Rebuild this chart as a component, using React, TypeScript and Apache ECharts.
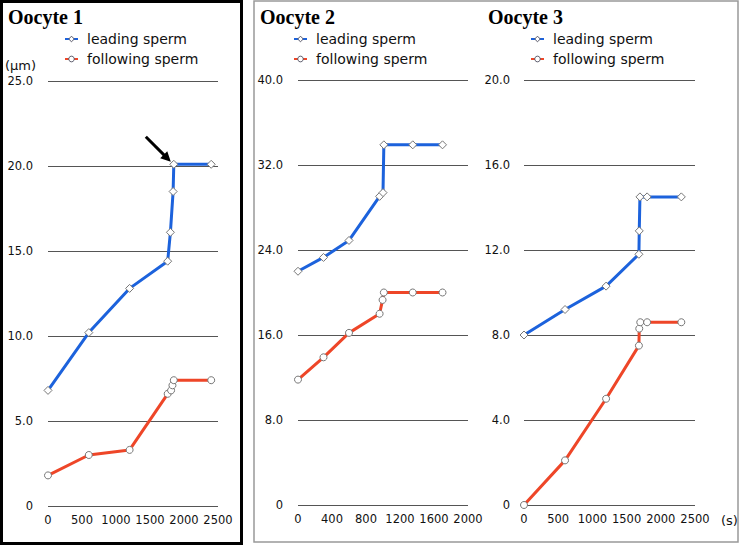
import React, { useEffect, useRef } from "react";
import * as echarts from "echarts";

// ---- data (time in s, distance in µm) ----
const panelTitles = ["Oocyte 1", "Oocyte 2", "Oocyte 3"];
const seriesNames = ["leading sperm", "following sperm"];

const leading1 = [[0, 6.8], [600, 10.2], [1200, 12.8], [1760, 14.4], [1800, 16.1], [1840, 18.5], [1850, 20.1], [2400, 20.1]];
const following1 = [[0, 1.8], [600, 3.0], [1200, 3.3], [1760, 6.6], [1810, 6.8], [1830, 7.1], [1850, 7.4], [2400, 7.4]];

const leading2 = [[0, 22.0], [300, 23.3], [600, 24.9], [960, 29.05], [1000, 29.4], [1010, 33.9], [1350, 33.9], [1700, 33.9]];
const following2 = [[0, 11.8], [300, 13.9], [600, 16.2], [960, 18.0], [995, 19.3], [1010, 20.0], [1350, 20.0], [1700, 20.0]];

const leading3 = [[0, 8.0], [600, 9.2], [1200, 10.3], [1680, 11.8], [1685, 12.9], [1695, 14.5], [1800, 14.5], [2300, 14.5]];
const following3 = [[0, 0], [600, 2.1], [1200, 5.0], [1680, 7.5], [1685, 8.3], [1700, 8.6], [1800, 8.6], [2300, 8.6]];

// axis scales
const xMax = [2500, 2000, 2500];
const xInterval = [500, 400, 500];
const yMax = [25, 40, 20];
const yInterval = [5, 8, 4];

const BLUE = "#1c62dc";
const RED = "#ee4628";
const SANS = "DejaVu Sans";

export default function App() {
  const ref = useRef<HTMLDivElement>(null);

  useEffect(() => {
    document.body.style.margin = "0";
    const el = ref.current!;
    const chart = echarts.init(el, null, { renderer: "svg" });

    const grids = [
      { left: 48, top: 81, width: 170, height: 425 },
      { left: 298, top: 80, width: 170, height: 425 },
      { left: 524, top: 80, width: 171, height: 425 },
    ];
    const yMargins = [15, 15, 14];
    const legendLefts = [59, 288, 525];

    const leads = [leading1, leading2, leading3];
    const follows = [following1, following2, following3];

    const series: any[] = [];
    for (let i = 0; i < 3; i++) {
      series.push({
        type: "line",
        name: seriesNames[0],
        xAxisIndex: i,
        yAxisIndex: i,
        data: leads[i],
        symbol: "diamond",
        symbolSize: 8,
        showAllSymbol: true,
        clip: false,
        z: 3,
        lineStyle: { color: BLUE, width: 3 },
        itemStyle: { color: "#fff", borderColor: "#777", borderWidth: 1 },
      });
      series.push({
        type: "line",
        name: seriesNames[1],
        xAxisIndex: i,
        yAxisIndex: i,
        data: follows[i],
        symbol: "circle",
        symbolSize: 7,
        showAllSymbol: true,
        clip: false,
        z: 3,
        lineStyle: { color: RED, width: 3 },
        itemStyle: { color: "#fff", borderColor: "#777", borderWidth: 1 },
      });
    }

    const option: any = {
      animation: false,
      backgroundColor: "#fff",
      grid: grids,
      xAxis: grids.map((_, i) => ({
        type: "value",
        gridIndex: i,
        min: 0,
        max: xMax[i],
        interval: xInterval[i],
        axisLine: { show: false },
        axisTick: { show: false },
        splitLine: { show: false },
        axisLabel: {
          margin: 8,
          color: "#111",
          fontSize: 11.5,
          fontFamily: SANS,
          showMinLabel: true,
          showMaxLabel: true,
          formatter: (v: number) => String(v),
        },
      })),
      yAxis: grids.map((_, i) => ({
        type: "value",
        gridIndex: i,
        min: 0,
        max: yMax[i],
        interval: yInterval[i],
        axisLine: { show: false },
        axisTick: { show: false },
        splitLine: { show: true, lineStyle: { color: "#555", width: 1 } },
        axisLabel: {
          margin: yMargins[i],
          color: "#111",
          fontSize: 11.5,
          fontFamily: SANS,
          formatter: (v: number) => (v === 0 ? "0" : v.toFixed(1)),
        },
      })),
      legend: legendLefts.map((l) => ({
        left: l,
        top: 27,
        orient: "vertical",
        itemWidth: 13,
        itemHeight: 7,
        itemGap: 6,
        data: seriesNames,
        selectedMode: false,
        lineStyle: { width: 2 },
        itemStyle: { color: "#fff", borderColor: "#556", borderWidth: 1 },
        textStyle: { fontSize: 14, fontFamily: SANS, color: "#111", lineHeight: 14, padding: [0, 0, 0, 4] },
      })),
      series,
    };

    chart.setOption(option);

    // annotation arrow pointing at the leading sperm's arrival point in Oocyte 1
    const target = chart.convertToPixel({ gridIndex: 0 } as any, leading1[6]) as number[];
    const tip = [target[0] - 3, target[1] - 2.5];
    const dir = [Math.SQRT1_2, Math.SQRT1_2];
    const tail = [tip[0] - 25, tip[1] - 25];
    const headLen = 10;
    const headHalf = 5;
    const base = [tip[0] - dir[0] * headLen, tip[1] - dir[1] * headLen];
    const perp = [-dir[1], dir[0]];

    chart.setOption({
      graphic: [
        {
          type: "rect",
          shape: { x: 1.5, y: 1.5, width: 240, height: 542 },
          style: { fill: "none", stroke: "#000", lineWidth: 3 },
          silent: true,
        },
        {
          type: "rect",
          shape: { x: 254, y: 1, width: 484, height: 541 },
          style: { fill: "none", stroke: "#999", lineWidth: 1.5 },
          silent: true,
        },
        {
          type: "text",
          x: 8,
          y: 17,
          style: { text: panelTitles[0], font: "bold 20px 'Liberation Serif'", fill: "#000", textVerticalAlign: "middle" },
        },
        {
          type: "text",
          x: 260,
          y: 17,
          style: { text: panelTitles[1], font: "bold 20px 'Liberation Serif'", fill: "#000", textVerticalAlign: "middle" },
        },
        {
          type: "text",
          x: 488,
          y: 17,
          style: { text: panelTitles[2], font: "bold 20px 'Liberation Serif'", fill: "#000", textVerticalAlign: "middle" },
        },
        {
          type: "text",
          x: 5,
          y: 65,
          style: { text: "(μm)", font: "13px 'DejaVu Sans'", fill: "#111", textVerticalAlign: "middle" },
        },
        {
          type: "text",
          x: 721,
          y: 520,
          style: { text: "(s)", font: "13px 'DejaVu Sans'", fill: "#111", textVerticalAlign: "middle" },
        },
        {
          type: "line",
          shape: { x1: tail[0], y1: tail[1], x2: base[0] + dir[0] * 2, y2: base[1] + dir[1] * 2 },
          style: { stroke: "#000", lineWidth: 3 },
          z: 10,
        },
        {
          type: "polygon",
          shape: {
            points: [
              tip,
              [base[0] + perp[0] * headHalf, base[1] + perp[1] * headHalf],
              [base[0] - perp[0] * headHalf, base[1] - perp[1] * headHalf],
            ],
          },
          style: { fill: "#000" },
          z: 10,
        },
      ],
    });

    return () => chart.dispose();
  }, []);

  return <div ref={ref} style={{ width: 742, height: 545 }} />;
}
